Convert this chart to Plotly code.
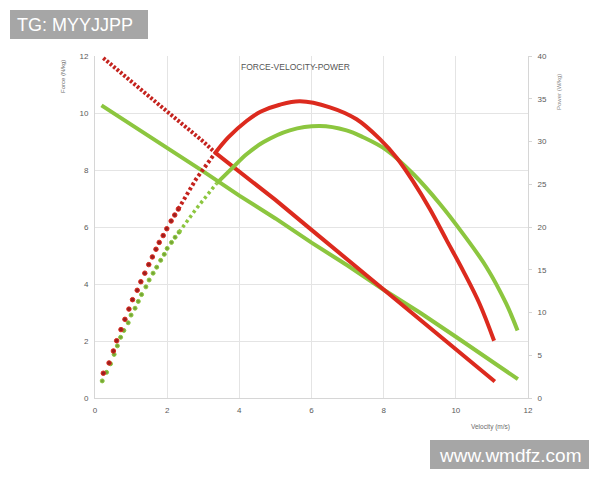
import plotly.graph_objects as go

# ---- data ----
# Athlete A (red)
red_force_v = [0.23, 1.0, 2.0, 3.0, 3.32, 4.0, 5.0, 6.0, 7.0, 8.0, 9.0, 10.0, 11.08]
red_force = [11.93, 11.1, 10.05, 9.0, 8.62, 7.95, 6.95, 5.9, 4.85, 3.8, 2.75, 1.7, 0.58]

red_power_v = [0.23, 0.39, 0.51, 0.60, 0.72, 0.83, 0.94, 1.04, 1.17, 1.27, 1.38, 1.49,
               1.59, 1.69, 1.78, 1.89, 1.99, 2.11, 2.21, 2.31, 2.8, 3.32, 3.7, 4.2, 4.6,
               5.12, 5.68, 6.51, 7.25, 7.89, 8.36, 8.82, 9.28, 9.74, 10.2, 10.66, 11.06]
red_power = [2.9, 4.1, 5.5, 6.7, 8.0, 9.2, 10.4, 11.5, 12.6, 13.6, 14.6, 15.6,
             16.5, 17.4, 18.2, 19.0, 19.8, 20.7, 21.4, 22.1, 25.6, 28.6, 30.5, 32.4, 33.5,
             34.3, 34.7, 34.0, 32.6, 30.3, 28.1, 25.3, 22.1, 18.5, 14.9, 11.0, 6.7]

# Athlete B (green)
green_force_v = [0.18, 1.0, 2.0, 3.0, 4.0, 5.0, 6.0, 7.0, 8.0, 9.0, 10.0, 11.0, 11.72]
green_force = [10.27, 9.6, 8.75, 7.95, 7.1, 6.3, 5.45, 4.65, 3.8, 3.0, 2.15, 1.3, 0.66]

green_power_v = [0.20, 0.32, 0.43, 0.53, 0.62, 0.71, 0.80, 0.92, 1.00, 1.11, 1.20, 1.29,
                 1.41, 1.50, 1.61, 1.71, 1.82, 1.92, 2.00, 2.12, 2.22, 2.33, 2.8, 3.37,
                 3.83, 4.2, 4.66, 5.40, 6.23, 6.97, 7.43, 8.08, 8.82, 9.56, 10.2, 10.85, 11.4, 11.71]
green_power = [2.0, 3.0, 4.0, 5.1, 6.1, 7.1, 7.9, 8.8, 9.7, 10.5, 11.3, 12.1,
               13.0, 13.8, 14.6, 15.3, 16.1, 16.8, 17.5, 18.2, 18.8, 19.4, 22.1, 25.1,
               27.0, 28.5, 29.9, 31.3, 31.8, 31.3, 30.5, 29.0, 26.2, 22.7, 19.2, 15.3, 11.0, 7.9]

x_ticks = [0, 2, 4, 6, 8, 10, 12]
y_ticks = [0, 2, 4, 6, 8, 10, 12]
y2_ticks = [0, 5, 10, 15, 20, 25, 30, 35, 40]

# velocity where the individual dots end / where the trace turns solid
DOTS_END_RED = 2.31
DOTS_END_GREEN = 2.33
SOLID_FROM_RED = 3.32
SOLID_FROM_GREEN = 3.37

RED = "#DC2A1E"
RED_DARK = "#9A1F1F"
GREEN = "#8CC63F"
GREEN_DARK = "#76A536"


def part(xs, ys, lo, hi):
    sel = [(a, b) for a, b in zip(xs, ys) if lo <= a <= hi]
    return [a for a, _ in sel], [b for _, b in sel]


fig = go.Figure()

# green force (solid)
fig.add_trace(go.Scatter(x=green_force_v, y=green_force, mode="lines",
                         line=dict(color=GREEN, width=4)))
# green power: dots, then dashed, then solid
gx, gy = part(green_power_v, green_power, 0, DOTS_END_GREEN)
fig.add_trace(go.Scatter(x=gx, y=gy, mode="markers", yaxis="y2",
                         marker=dict(size=4, color=GREEN_DARK, line=dict(color=GREEN, width=1))))
gx, gy = part(green_power_v, green_power, DOTS_END_GREEN, SOLID_FROM_GREEN)
fig.add_trace(go.Scatter(x=gx, y=gy, mode="lines", yaxis="y2",
                         line=dict(color=GREEN, width=3.5, dash="3px,3px")))
gx, gy = part(green_power_v, green_power, SOLID_FROM_GREEN, 99)
fig.add_trace(go.Scatter(x=gx, y=gy, mode="lines", yaxis="y2",
                         line=dict(color=GREEN, width=4, shape="spline")))

# red force: dotted start, solid after
rx, ry = part(red_force_v, red_force, 0, SOLID_FROM_RED)
fig.add_trace(go.Scatter(x=rx, y=ry, mode="lines",
                         line=dict(color="#C4231E", width=4, dash="2.6px,1.8px")))
rx, ry = part(red_force_v, red_force, SOLID_FROM_RED, 99)
fig.add_trace(go.Scatter(x=rx, y=ry, mode="lines",
                         line=dict(color=RED, width=4)))
# red power: dots, dashed, solid
rx, ry = part(red_power_v, red_power, 0, DOTS_END_RED)
fig.add_trace(go.Scatter(x=rx, y=ry, mode="markers", yaxis="y2",
                         marker=dict(size=4.5, color=RED_DARK, line=dict(color=RED, width=1))))
rx, ry = part(red_power_v, red_power, DOTS_END_RED, SOLID_FROM_RED)
fig.add_trace(go.Scatter(x=rx, y=ry, mode="lines", yaxis="y2",
                         line=dict(color="#C4231E", width=4, dash="3px,2.5px")))
rx, ry = part(red_power_v, red_power, SOLID_FROM_RED, 99)
fig.add_trace(go.Scatter(x=rx, y=ry, mode="lines", yaxis="y2",
                         line=dict(color=RED, width=4, shape="spline")))

# page has an 8px body margin: work in screen pixels, shift by OFF
OFF = 8
W, H = 600 - OFF, 480 - OFF
L, R, T, B = 95 - OFF, 528 - OFF, 56 - OFF, 398 - OFF


def px(x):
    return (x - OFF - L) / (R - L)


def py(y):
    return (B - (y - OFF)) / (B - T)


tick_font = dict(family="Liberation Sans, Arial", size=8, color="#5a5a5a")

fig.update_layout(
    width=W, height=H, autosize=False,
    margin=dict(l=L, r=W - R, t=T, b=H - B),
    paper_bgcolor="white", plot_bgcolor="white",
    showlegend=False,
    xaxis=dict(range=[0, 12], tickvals=x_ticks, showgrid=True, gridcolor="#e4e4e4",
               gridwidth=1, zeroline=False, showline=True, linecolor="#d6d6d6",
               tickfont=tick_font, ticks="", ticklabelstandoff=4),
    yaxis=dict(range=[0, 12], tickvals=y_ticks, showgrid=True, gridcolor="#e4e4e4",
               gridwidth=1, zeroline=False, showline=True, linecolor="#d6d6d6",
               tickfont=tick_font, ticks="", ticklabelstandoff=4),
    yaxis2=dict(range=[0, 40], tickvals=y2_ticks, overlaying="y", side="right",
                showgrid=False, zeroline=False, showline=True, linecolor="#d6d6d6",
                ticks="outside", ticklen=3, tickcolor="#d6d6d6",
                tickfont=tick_font, ticklabelstandoff=4),
    font=dict(family="Liberation Sans, Arial"),
)


def ann(text, x, y, size, color, angle=0):
    return dict(text=text, x=px(x), y=py(y), xref="paper", yref="paper",
                xanchor="center", yanchor="middle", showarrow=False, textangle=angle,
                font=dict(size=size, color=color, family="Liberation Sans, Arial"))


annos = [
    ann("FORCE-VELOCITY-POWER", 295, 67, 8.5, "#555555"),
    ann("Velocity (m/s)", 490, 427, 6.5, "#6b6b6b"),
    ann("Force (N/kg)", 63, 77, 6, "#6b6b6b", angle=-90),
    ann("Power (W/kg)", 559, 92, 6, "#8a8a8a", angle=-90),
    ann("TG: MYYJJPP", 75, 24.5, 18, "white"),
    ann("www.wmdfz.com", 509.5, 455, 19, "white"),
]
fig.update_layout(annotations=annos)

fig.update_layout(shapes=[
    dict(type="rect", xref="paper", yref="paper", x0=px(10), x1=px(148), y0=py(39), y1=py(10),
         fillcolor="#a6a6a6", line=dict(width=0), layer="above"),
    dict(type="rect", xref="paper", yref="paper", x0=px(430), x1=px(589), y0=py(469), y1=py(440),
         fillcolor="#a6a6a6", line=dict(width=0), layer="above"),
])

fig.write_html("out.html")
